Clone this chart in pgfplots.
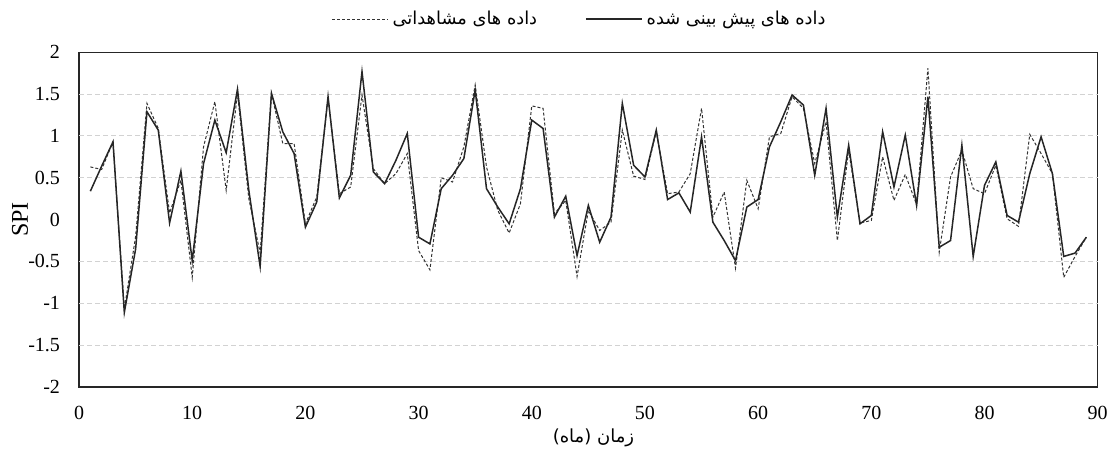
\documentclass[border=0pt]{standalone}
\usepackage{pgfplots}
\pgfplotsset{compat=1.18}
\usepackage{fontspec}
\setmainfont{Liberation Serif}
\newfontfamily\arabicfont[Script=Arabic]{DejaVu Sans}
\TeXXeTstate=1
\pgfplotsset{
  legdash/.style={legend image code/.code={\draw[##1] (0pt,0pt) -- (28pt,0pt);}},
  legsolid/.style={legend image code/.code={\draw[##1] (0pt,0pt) -- (28pt,0pt);}},
}
\pgfplotstableread{
x y
1 0.63
2 0.60
3 0.93
4 -1.07
5 -0.20
6 1.39
7 1.09
8 0.08
9 0.47
10 -0.69
11 0.87
12 1.41
13 0.35
14 1.51
15 0.25
16 -0.40
17 1.51
18 0.91
19 0.91
20 -0.05
21 0.27
22 1.45
23 0.31
24 0.39
25 1.49
26 0.61
27 0.43
28 0.55
29 0.79
30 -0.37
31 -0.60
32 0.50
33 0.45
34 0.87
35 1.61
36 0.63
37 0.11
38 -0.16
39 0.19
40 1.36
41 1.33
42 0.07
43 0.23
44 -0.68
45 0.11
46 -0.13
47 -0.03
48 1.07
49 0.52
50 0.48
51 1.05
52 0.31
53 0.33
54 0.55
55 1.33
56 0.03
57 0.33
58 -0.58
59 0.47
60 0.13
61 0.99
62 1.03
63 1.47
64 1.33
65 0.67
66 1.17
67 -0.25
68 0.83
69 -0.04
70 -0.01
71 0.75
72 0.23
73 0.54
74 0.18
75 1.81
76 -0.39
77 0.51
78 0.83
79 0.37
80 0.31
81 0.65
82 0.01
83 -0.08
84 1.02
85 0.79
86 0.55
87 -0.69
88 -0.44
89 -0.21
}\observed
\pgfplotstableread{
x y
1 0.34
2 0.64
3 0.93
4 -1.11
5 -0.35
6 1.29
7 1.07
8 -0.04
9 0.58
10 -0.49
11 0.67
12 1.19
13 0.80
14 1.56
15 0.35
16 -0.56
17 1.51
18 1.05
19 0.79
20 -0.09
21 0.21
22 1.47
23 0.26
24 0.53
25 1.77
26 0.57
27 0.43
28 0.71
29 1.03
30 -0.21
31 -0.29
32 0.37
33 0.53
34 0.73
35 1.55
36 0.37
37 0.15
38 -0.05
39 0.37
40 1.19
41 1.09
42 0.03
43 0.28
44 -0.43
45 0.17
46 -0.27
47 0.03
48 1.39
49 0.65
50 0.51
51 1.07
52 0.24
53 0.32
54 0.09
55 0.99
56 -0.03
57 -0.25
58 -0.49
59 0.15
60 0.24
61 0.87
62 1.17
63 1.49
64 1.37
65 0.53
66 1.33
67 0.03
68 0.89
69 -0.05
70 0.05
71 1.05
72 0.39
73 1.01
74 0.17
75 1.47
76 -0.33
77 -0.25
78 0.89
79 -0.44
80 0.41
81 0.69
82 0.05
83 -0.03
84 0.55
85 0.99
86 0.55
87 -0.44
88 -0.40
89 -0.21
}\predicted
\begin{document}
\begin{tikzpicture}
\useasboundingbox (-39.5pt,-36.65pt) rectangle (515.65pt,193.35pt);
\begin{axis}[
  at={(0,0)}, anchor=south west, scale only axis,
  width=509pt, height=167.2pt,
  xmin=0, xmax=90, ymin=-2, ymax=2,
  xtick={0,10,...,90},
  ytick={-2,-1.5,-1,-0.5,0,0.5,1,1.5,2},
  yticklabels={-2,-1.5,-1,-0.5,0,0.5,1,1.5,2},
  /pgf/number format/assume math mode=true,
  major tick length=0pt,
  tick label style={font=\fontsize{10}{12}\selectfont, black},
  xticklabel style={anchor=center, yshift=-13pt},
  yticklabel style={anchor=east, xshift=-6pt},
  extra y ticks={-1.5,-1,-0.5,0.5,1,1.5},
  extra y tick labels={},
  extra y tick style={grid=major},
  major grid style={gray!35, line width=0.5pt, dash pattern=on 2.5pt off 1.5pt},
  axis line style={black!85, line width=0.6pt},
  xlabel={\arabicfont\fontsize{9}{10}\selectfont\beginR زمان (ماه)\endR},
  xlabel style={at={(axis description cs:0.505,0)}, anchor=center, yshift=-25.6pt},
  ylabel={SPI},
  ylabel style={font=\fontsize{12}{14}\selectfont, at={(axis description cs:-0.058,0.5)}, anchor=center},
  legend columns=2,
  legend style={at={(axis description cs:0.2475,1)}, anchor=west, yshift=16.6pt, draw=none, fill=none, inner sep=0pt,
    font=\arabicfont\fontsize{8.9}{10}\selectfont,
    /tikz/every even column/.append style={column sep=22pt}},
]
\addplot[black!80, line width=0.5pt, dash pattern=on 1.5pt off 1pt, legdash] table[x=x,y=y] {\observed};
\addlegendentry{\beginR داده های مشاهداتی\endR}
\addplot[black!85, line width=0.75pt, legsolid] table[x=x,y=y] {\predicted};
\addlegendentry{\beginR داده های پیش بینی شده\endR}
\end{axis}
\end{tikzpicture}
\end{document}
